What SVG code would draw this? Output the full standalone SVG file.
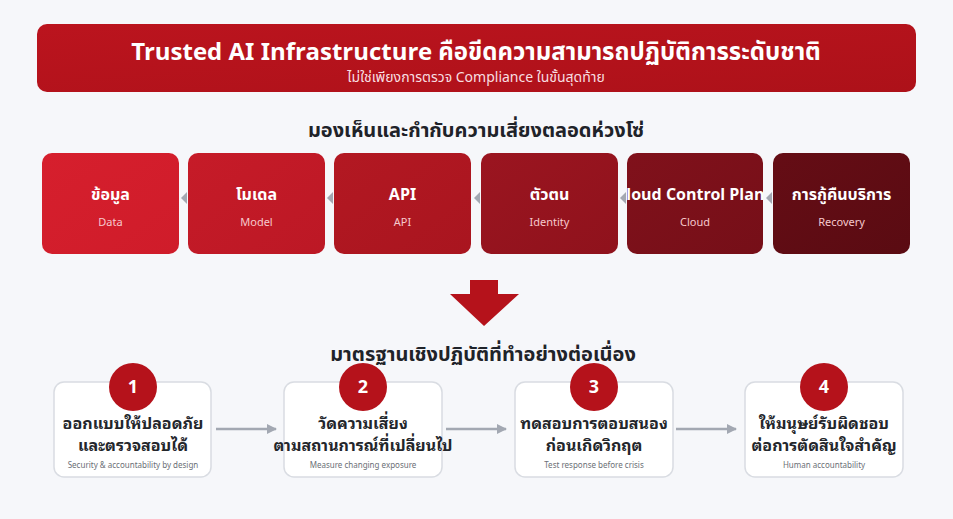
<svg xmlns="http://www.w3.org/2000/svg" width="953" height="519" viewBox="0 0 953 519">
<defs>
<style>
text{font-family:"Noto Sans Thai","Noto Sans",Roboto,sans-serif;}
.h{font-size:20px;font-weight:700;fill:#1f2329;text-anchor:middle;}
.bt{font-size:16px;font-weight:700;fill:#ffffff;text-anchor:middle;}
.bs{font-size:11px;fill:#f6c9cd;text-anchor:middle;}
.card{fill:#ffffff;stroke:#d9dce2;stroke-width:1.5;}
.ct{font-family:"Noto Sans Thai Looped","Noto Sans Thai","Noto Sans",sans-serif;font-size:16px;font-weight:700;fill:#23262b;text-anchor:middle;}
.cs{font-size:8px;fill:#6b6f76;text-anchor:middle;}
.num{font-size:18px;font-weight:700;fill:#ffffff;text-anchor:middle;}
.circ{fill:#b5121b;}
.conn{stroke:#a3a8b2;stroke-width:2.5;fill:none;}
.tri{fill:#a3a8b2;}
</style>
<linearGradient id="gb" x1="0" y1="0" x2="1" y2="1">
<stop offset="0" stop-color="#bb141e"/><stop offset="1" stop-color="#ad1119"/>
</linearGradient>
<linearGradient id="g1" x1="0" y1="0" x2="1" y2="1"><stop offset="0" stop-color="#d61f2d"/><stop offset="1" stop-color="#cf1c2a"/></linearGradient>
<linearGradient id="g2" x1="0" y1="0" x2="1" y2="1"><stop offset="0" stop-color="#c61b28"/><stop offset="1" stop-color="#bc1825"/></linearGradient>
<linearGradient id="g3" x1="0" y1="0" x2="1" y2="1"><stop offset="0" stop-color="#b31822"/><stop offset="1" stop-color="#a9151f"/></linearGradient>
<linearGradient id="g4" x1="0" y1="0" x2="1" y2="1"><stop offset="0" stop-color="#9b1520"/><stop offset="1" stop-color="#8f121c"/></linearGradient>
<linearGradient id="g5" x1="0" y1="0" x2="1" y2="1"><stop offset="0" stop-color="#80111b"/><stop offset="1" stop-color="#760f18"/></linearGradient>
<linearGradient id="g6" x1="0" y1="0" x2="1" y2="1"><stop offset="0" stop-color="#650d15"/><stop offset="1" stop-color="#5a0b12"/></linearGradient>
<clipPath id="clipCloud"><rect x="627" y="153" width="136" height="101" rx="10"/></clipPath>
<marker id="ah" viewBox="0 0 10 10" refX="9" refY="5" markerWidth="4" markerHeight="4" orient="auto" markerUnits="strokeWidth">
<path d="M0,0 L10,5 L0,10 Z" fill="#a3a8b2"/>
</marker>
</defs>
<rect width="953" height="519" fill="#f6f7fa"/>

<g id="header">
<rect x="37" y="24" width="879" height="68" rx="10" fill="url(#gb)"/>
<text x="476" y="60" style="font-size:24px;font-weight:700;fill:#ffffff;text-anchor:middle;">Trusted AI Infrastructure คือขีดความสามารถปฏิบัติการระดับชาติ</text>
<text x="476" y="82" style="font-size:14px;fill:#f8dfe1;text-anchor:middle;">ไม่ใช่เพียงการตรวจ Compliance ในขั้นสุดท้าย</text>
</g>

<g id="title-chain"><text class="h" x="476" y="137">มองเห็นและกำกับความเสี่ยงตลอดห่วงโซ่</text></g>

<g id="connectors">
<path class="tri" d="M181,198 L187,192 L187,204 Z"/>
<path class="tri" d="M327,198 L333,192 L333,204 Z"/>
<path class="tri" d="M474,198 L480,192 L480,204 Z"/>
<path class="tri" d="M620,198 L626,192 L626,204 Z"/>
<path class="tri" d="M766,198 L772,192 L772,204 Z"/>
<line class="conn" x1="216" y1="429" x2="276" y2="429" marker-end="url(#ah)"/>
<line class="conn" x1="446" y1="429" x2="506" y2="429" marker-end="url(#ah)"/>
<line class="conn" x1="676" y1="429" x2="736" y2="429" marker-end="url(#ah)"/>
</g>

<g id="node-data">
<rect x="42" y="153" width="137" height="101" rx="10" fill="url(#g1)"/>
<text class="bt" x="110.5" y="200">ข้อมูล</text>
<text class="bs" x="110.5" y="226">Data</text>
</g>
<g id="node-model">
<rect x="188" y="153" width="137" height="101" rx="10" fill="url(#g2)"/>
<text class="bt" x="256.5" y="200">โมเดล</text>
<text class="bs" x="256.5" y="226">Model</text>
</g>
<g id="node-api">
<rect x="334" y="153" width="137" height="101" rx="10" fill="url(#g3)"/>
<text class="bt" x="402.5" y="200">API</text>
<text class="bs" x="402.5" y="226">API</text>
</g>
<g id="node-identity">
<rect x="481" y="153" width="137" height="101" rx="10" fill="url(#g4)"/>
<text class="bt" x="549.5" y="200">ตัวตน</text>
<text class="bs" x="549.5" y="226">Identity</text>
</g>
<g id="node-cloud">
<rect x="627" y="153" width="136" height="101" rx="10" fill="url(#g5)"/>
<text class="bt" x="695" y="200" clip-path="url(#clipCloud)">Cloud Control Plane</text>
<text class="bs" x="695" y="226">Cloud</text>
</g>
<g id="node-recovery">
<rect x="773" y="153" width="137" height="101" rx="10" fill="url(#g6)"/>
<text class="bt" x="841.5" y="200">การกู้คืนบริการ</text>
<text class="bs" x="841.5" y="226">Recovery</text>
</g>

<g id="big-arrow">
<path d="M470,280 L498,280 L498,294 L519,294 L484,326 L450,294 L470,294 Z" fill="#b5121b"/>
</g>

<g id="title-standard"><text class="h" x="483" y="361">มาตรฐานเชิงปฏิบัติที่ทำอย่างต่อเนื่อง</text></g>

<g id="step-1">
<rect class="card" x="54" y="382" width="157" height="95" rx="10"/>
<circle class="circ" cx="133" cy="387" r="24"/>
<text class="num" x="133" y="393">1</text>
<text class="ct" x="133" y="429">ออกแบบให้ปลอดภัย</text>
<text class="ct" x="133" y="451">และตรวจสอบได้</text>
<text class="cs" x="133" y="468">Security &amp; accountability by design</text>
</g>
<g id="step-2">
<rect class="card" x="284" y="382" width="158" height="95" rx="10"/>
<circle class="circ" cx="363" cy="387" r="24"/>
<text class="num" x="363" y="393">2</text>
<text class="ct" x="363" y="429">วัดความเสี่ยง</text>
<text class="ct" x="363" y="451">ตามสถานการณ์ที่เปลี่ยนไป</text>
<text class="cs" x="363" y="468">Measure changing exposure</text>
</g>
<g id="step-3">
<rect class="card" x="515" y="382" width="158" height="95" rx="10"/>
<circle class="circ" cx="594" cy="387" r="24"/>
<text class="num" x="594" y="393">3</text>
<text class="ct" x="594" y="429">ทดสอบการตอบสนอง</text>
<text class="ct" x="594" y="451">ก่อนเกิดวิกฤต</text>
<text class="cs" x="594" y="468">Test response before crisis</text>
</g>
<g id="step-4">
<rect class="card" x="745" y="382" width="158" height="95" rx="10"/>
<circle class="circ" cx="824" cy="387" r="24"/>
<text class="num" x="824" y="393">4</text>
<text class="ct" x="824" y="429">ให้มนุษย์รับผิดชอบ</text>
<text class="ct" x="824" y="451">ต่อการตัดสินใจสำคัญ</text>
<text class="cs" x="824" y="468">Human accountability</text>
</g>
</svg>
